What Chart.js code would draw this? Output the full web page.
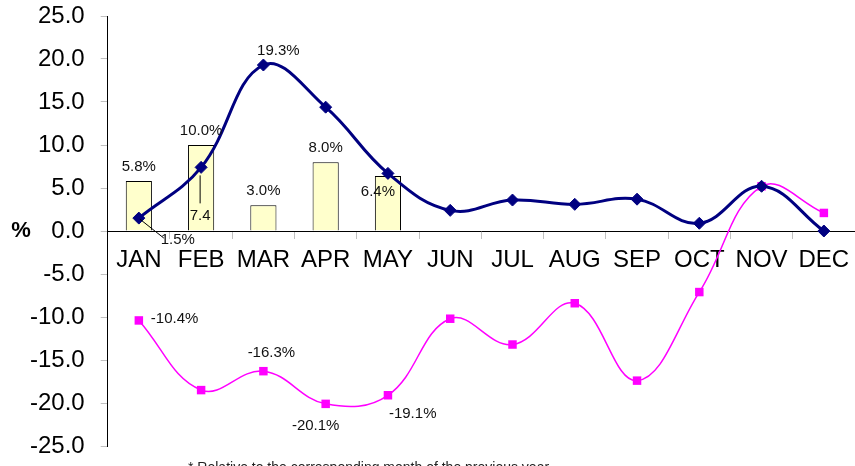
<!DOCTYPE html>
<html>
<head>
<meta charset="utf-8">
<script src="https://cdn.jsdelivr.net/npm/chart.js@4.4.1/dist/chart.umd.min.js"></script>
<style>
    html, body { margin: 0; padding: 0; background: #fff; }
    canvas { display: block; }
</style>
</head>
<body>
<canvas id="chart" width="855" height="466"></canvas>
<script>
// ========== DATA ==========
const months = ['JAN', 'FEB', 'MAR', 'APR', 'MAY', 'JUN', 'JUL', 'AUG', 'SEP', 'OCT', 'NOV', 'DEC'];
const barValues = [5.8, 10.0, 3.0, 8.0, 6.4, null, null, null, null, null, null, null];
const navyValues = [1.5, 7.4, 19.3, 14.4, 6.7, 2.4, 3.6, 3.1, 3.7, 0.9, 5.2, 0.0];
const pinkValues = [-10.4, -18.5, -16.3, -20.1, -19.1, -10.2, -13.2, -8.4, -17.4, -7.1, 5.2, 2.1];
const yMin = -25;
const yMax = 25;
const yStep = 5;
const caption = '* Relative to the corresponding month of the previous year';

// label placement per dataset (offsets from the point, in px)
const barSpots = [
    { i: 0, dx: 0, dy: -14 },
    { i: 1, dx: 0, dy: -14 },
    { i: 2, dx: 0, dy: -14 },
    { i: 3, dx: 0, dy: -14 },
    { i: 4, dx: -10, dy: 16 }
];
const navySpots = [
    { i: 0, dx: 39, dy: 22, leader: [1, 1, 25, 20] },
    { i: 1, dx: -1, dy: 48, plain: true, leader: [-1, 8, -1, 36] },
    { i: 2, dx: 15, dy: -14 }
];
const pinkSpots = [
    { i: 0, dx: 12, dy: -2, align: 'left' },
    { i: 2, dx: 8, dy: -18 },
    { i: 3, dx: -10, dy: 22 },
    { i: 4, dx: 1, dy: 19, align: 'left' }
];

const FONT = "Arial, 'Liberation Sans', sans-serif";

// ========== LABEL PLUGIN ==========
const valueLabels = {
    id: 'valueLabels',
    afterDatasetsDraw(chart) {
        const ctx = chart.ctx;
        const spotsByDataset = [navySpots, pinkSpots, barSpots];
        ctx.save();
        ctx.font = '15px ' + FONT;
        ctx.fillStyle = '#111';
        ctx.strokeStyle = '#000';
        ctx.lineWidth = 1;
        ctx.textBaseline = 'middle';
        spotsByDataset.forEach((spots, di) => {
            const meta = chart.getDatasetMeta(di);
            const values = chart.data.datasets[di].data;
            spots.forEach(s => {
                const el = meta.data[s.i];
                const px = el.x;
                const py = el.y;
                if (s.leader) {
                    ctx.beginPath();
                    ctx.moveTo(px + s.leader[0], py + s.leader[1]);
                    ctx.lineTo(px + s.leader[2], py + s.leader[3]);
                    ctx.stroke();
                }
                const v = values[s.i];
                const txt = s.plain ? v.toFixed(1) : v.toFixed(1) + '%';
                ctx.textAlign = s.align || 'center';
                ctx.fillText(txt, px + s.dx, py + s.dy);
            });
        });
        ctx.restore();
    },
    afterDraw(chart) {
        const ctx = chart.ctx;
        const area = chart.chartArea;
        const y0 = chart.scales.y.getPixelForValue(0);
        ctx.save();
        ctx.fillStyle = '#000';
        ctx.font = 'bold 22px ' + FONT;
        ctx.textAlign = 'center';
        ctx.textBaseline = 'middle';
        ctx.fillText('%', 21, y0);
        ctx.font = '14px ' + FONT;
        ctx.fillStyle = '#222';
        ctx.textAlign = 'left';
        ctx.textBaseline = 'top';
        ctx.fillText(caption, 188, area.bottom + 15);
        ctx.restore();
    }
};

const noPadding = scale => {
    scale.paddingLeft = 0;
    scale.paddingRight = 0;
    scale.paddingTop = 0;
    scale.paddingBottom = 0;
};

// ========== CHART ==========
const ctx = document.getElementById('chart').getContext('2d');
const chart = new Chart(ctx, {
    type: 'bar',
    data: {
        labels: months,
        datasets: [
            {
                type: 'line',
                data: navyValues,
                borderColor: '#000080',
                backgroundColor: '#000080',
                borderWidth: 3,
                pointStyle: 'rectRot',
                pointRadius: 6,
                pointBorderWidth: 1,
                tension: 0.4,
                clip: false,
                order: 1
            },
            {
                type: 'line',
                data: pinkValues,
                borderColor: '#FF00FF',
                backgroundColor: '#FF00FF',
                borderWidth: 1.5,
                pointStyle: 'rect',
                pointRadius: 6,
                pointBorderWidth: 0,
                tension: 0.4,
                clip: false,
                order: 2
            },
            {
                type: 'bar',
                data: barValues,
                backgroundColor: '#FFFFCC',
                borderColor: '#000',
                borderWidth: 1,
                barPercentage: 0.42,
                categoryPercentage: 1,
                order: 3
            }
        ]
    },
    options: {
        responsive: false,
        animation: false,
        layout: { autoPadding: false, padding: { left: 14, top: 16, right: 0, bottom: 20 } },
        plugins: {
            legend: { display: false },
            tooltip: { enabled: false }
        },
        scales: {
            x: {
                position: { y: 0 },
                offset: true,
                grid: { offset: true, drawOnChartArea: false, tickLength: 7, color: '#c0c0c0' },
                border: { color: '#000', width: 1 },
                ticks: { color: '#000', font: { size: 24, family: FONT }, padding: 8, maxRotation: 0, autoSkip: false },
                afterFit: noPadding
            },
            y: {
                min: yMin,
                max: yMax,
                grid: { drawOnChartArea: false, tickLength: 7, color: '#c0c0c0' },
                border: { color: '#000', width: 1 },
                ticks: {
                    stepSize: yStep,
                    color: '#000',
                    padding: 16,
                    font: { size: 24, family: FONT },
                    callback: v => v.toFixed(1)
                },
                afterFit: noPadding
            }
        }
    },
    plugins: [valueLabels]
});
</script>
</body>
</html>
